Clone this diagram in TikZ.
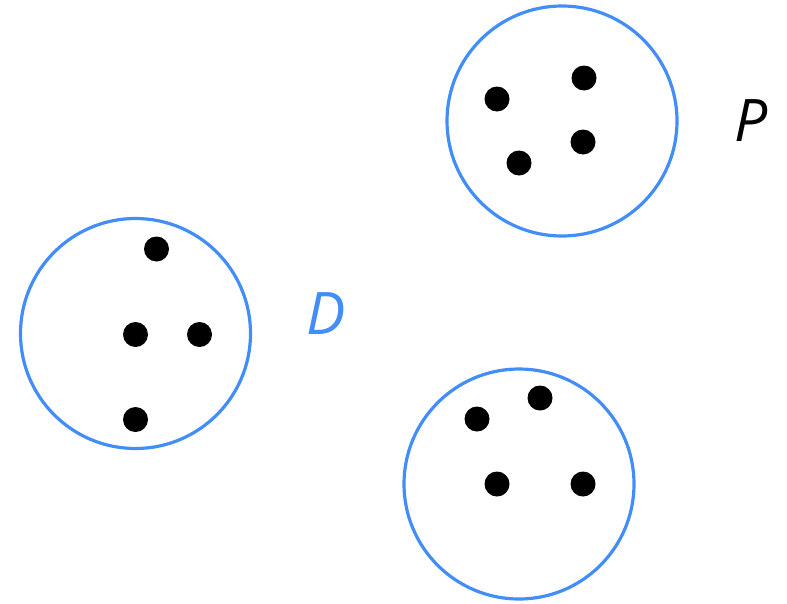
\documentclass[tikz,border=0pt]{standalone}
\usepackage{fontspec}
\setmainfont{Open Sans}
\definecolor{setblue}{HTML}{428DF7}
\begin{document}
\begin{tikzpicture}[x=0.75pt,y=-0.75pt,
  setcircle/.style={circle,draw=setblue,line width=2.4pt,minimum size=172.5pt,inner sep=0pt},
  pt/.style={circle,fill=black,minimum size=18.75pt,inner sep=0pt},
  lbl/.style={font=\fontsize{44}{50}\selectfont\itshape,inner sep=0pt}]
\useasboundingbox (0,0) rectangle (787,603);
% sets
\node[setcircle] (P) at (562,121) {};
\node[setcircle] (D) at (135.5,333.5) {};
\node[setcircle] (Q) at (519,484) {};
% points of P
\node[pt] (p1) at (584,78) {};
\node[pt] (p2) at (497,99) {};
\node[pt] (p3) at (583,142) {};
\node[pt] (p4) at (519,163) {};
% points of D
\node[pt] (d1) at (156.5,249) {};
\node[pt] (d2) at (135.5,334.5) {};
\node[pt] (d3) at (199.5,334.5) {};
\node[pt] (d4) at (135.5,419.5) {};
% points of the third set
\node[pt] (q1) at (540,398) {};
\node[pt] (q2) at (477,419) {};
\node[pt] (q3) at (497,484) {};
\node[pt] (q4) at (583,484) {};
% labels
\node[lbl] (Plabel) at (751,121) {P};
\node[lbl,text=setblue] (Dlabel) at (326,314) {D};
\end{tikzpicture}
\end{document}
